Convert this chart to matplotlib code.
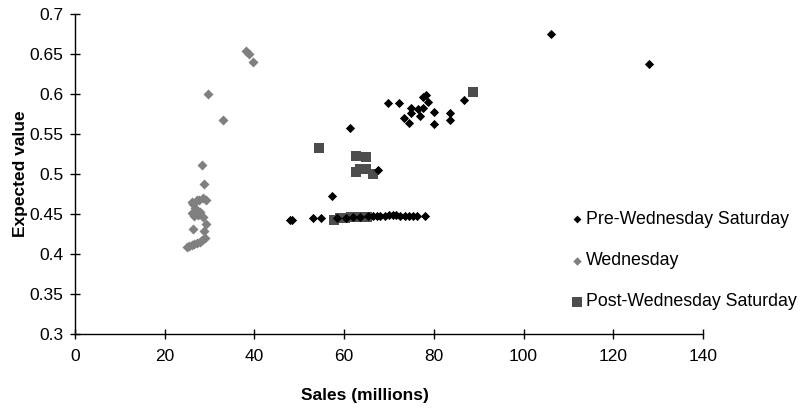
import matplotlib.pyplot as plt

plt.rcParams['font.family'] = ['Liberation Sans', 'DejaVu Sans']

# Pre-Wednesday Saturday draws
pre_sales = [106.1, 128.0,
             69.8, 72.2, 78.2, 77.6, 78.8, 74.8, 76.5, 77.6, 74.8, 76.8,
             73.3, 74.5, 80.0, 80.0, 83.5, 83.5, 86.8,
             61.4, 57.4, 67.6,
             47.9, 48.4, 53.1, 54.8, 58.5, 60.5, 62.0, 63.5, 65.3, 66.5,
             67.3, 68.0, 69.0, 70.0, 70.8, 71.5, 72.5, 73.5, 74.5, 75.3,
             76.2, 78.0]
pre_value = [0.675, 0.6375,
             0.589, 0.589, 0.599, 0.596, 0.590, 0.582, 0.581, 0.583, 0.576, 0.573,
             0.570, 0.564, 0.577, 0.563, 0.576, 0.567, 0.593,
             0.558, 0.473, 0.505,
             0.442, 0.442, 0.4445, 0.4445, 0.445, 0.445, 0.446, 0.446, 0.447, 0.447,
             0.447, 0.448, 0.448, 0.449, 0.449, 0.449, 0.448, 0.448, 0.448, 0.448,
             0.448, 0.448]

# Wednesday draws
wed_sales = [38.1, 38.7, 39.6, 29.7, 33.1, 28.4, 28.8, 29.1, 27.7, 26.2,
             26.0, 27.1, 28.6, 26.7, 27.9, 28.6, 26.0, 27.0, 27.5, 26.5,
             29.3, 26.4, 28.8,
             24.9, 25.5, 26.0, 26.6, 27.2, 27.8, 28.4, 29.0]
wed_value = [0.654, 0.650, 0.640, 0.600, 0.567, 0.511, 0.488, 0.467, 0.467, 0.463,
             0.465, 0.4675, 0.4696, 0.457, 0.453, 0.4466, 0.451, 0.455, 0.449, 0.447,
             0.438, 0.431, 0.429,
             0.409, 0.410, 0.411, 0.412, 0.414, 0.415, 0.417, 0.4196]

# Post-Wednesday Saturday draws
post_sales = [88.8, 54.5, 62.7, 64.9, 62.7, 63.5, 64.9, 66.5,
              57.7, 59.0, 60.3, 61.5, 62.7, 64.0, 65.0]
post_value = [0.602, 0.533, 0.523, 0.521, 0.502, 0.506, 0.506, 0.500,
              0.442, 0.4455, 0.4455, 0.446, 0.446, 0.446, 0.446]

fig = plt.figure(figsize=(8.04, 4.08), dpi=100)
ax = fig.add_axes([75 / 804, 74 / 408, 628 / 804, 320 / 408])

h1 = ax.scatter(pre_sales, pre_value, marker='D', s=22, color='#000000',
                linewidths=0, label='Pre-Wednesday Saturday', zorder=3)
h2 = ax.scatter(wed_sales, wed_value, marker='D', s=26, color='#808080',
                linewidths=0, label='Wednesday', zorder=2)
h3 = ax.scatter(post_sales, post_value, marker='s', s=62, color='#4d4d4d',
                linewidths=0, label='Post-Wednesday Saturday', zorder=2)

ax.set_xlim(0, 140)
ax.set_ylim(0.3, 0.7)
ax.set_xticks(range(0, 141, 20))
ax.set_yticks([0.3, 0.35, 0.4, 0.45, 0.5, 0.55, 0.6, 0.65, 0.7])
ax.set_yticklabels(['0.3', '0.35', '0.4', '0.45', '0.5', '0.55', '0.6', '0.65', '0.7'])

for side in ['top', 'right']:
    ax.spines[side].set_visible(False)
for side in ['left', 'bottom']:
    ax.spines[side].set_linewidth(1.0)
ax.tick_params(direction='inout', length=7, width=1.0, labelsize=12.5, pad=5)
ax.tick_params(axis='x', pad=7)

ax.set_xlabel('Sales (millions)', fontsize=12.5, fontweight='bold')
ax.set_ylabel('Expected value', fontsize=12.5, fontweight='bold')
ax.xaxis.set_label_coords(0.462, -0.17)
ax.yaxis.set_label_coords(-0.075, 0.5)

fig.legend(handles=[h1, h2, h3], loc='upper left',
           bbox_to_anchor=(562 / 804, 1 - 204 / 408), frameon=False,
           fontsize=12.8, labelspacing=1.36, handletextpad=0.05,
           handlelength=0.9, markerscale=0.85, borderaxespad=0)

fig.savefig('out.png', dpi=100)
